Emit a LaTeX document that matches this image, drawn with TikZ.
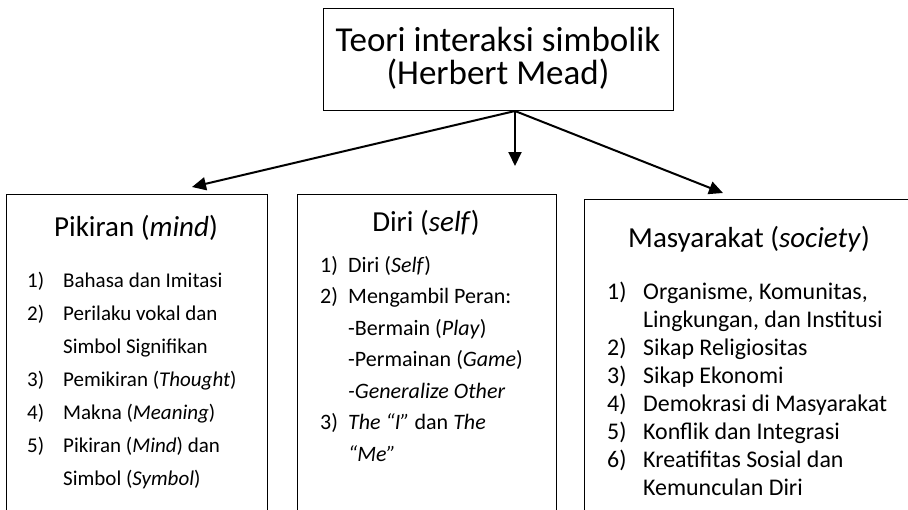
\documentclass[tikz,border=0pt]{standalone}
\usepackage{fontspec}
\setmainfont{Carlito}
\usetikzlibrary{arrows.meta}
\begin{document}
\begin{tikzpicture}[x=1pt,y=-1pt,
  panel/.style={draw, line width=1.2pt, inner sep=0pt, anchor=north west},
  link/.style={line width=2pt, -{Triangle[length=14pt,width=13pt]}},
  titletext/.style={anchor=base, inner sep=0pt, font=\fontsize{35}{40}\selectfont},
  headtext/.style={anchor=base, inner sep=0pt, font=\fontsize{29}{34}\selectfont},
  ltext/.style={anchor=base west, inner sep=0pt, font=\fontsize{21}{25}\selectfont},
  ctext/.style={anchor=base west, inner sep=0pt, font=\fontsize{22}{26}\selectfont},
  rtext/.style={anchor=base west, inner sep=0pt, font=\fontsize{23.9}{28}\selectfont}]
\useasboundingbox (0,0) rectangle (908,509);
\clip (0,0) rectangle (908,509);

% root box
\node[panel, minimum width=350pt, minimum height=102pt] (root) at (323,8) {};
\node[titletext] (t1) at (498,51) {Teori interaksi simbolik};
\node[titletext] (t2) at (498,84) {(Herbert Mead)};

% the three panels, open at the bottom edge
\node[panel, minimum width=261pt, minimum height=340pt] (mindbox) at (6,194) {};
\node[panel, minimum width=259pt, minimum height=340pt] (selfbox) at (297,194) {};
\node[panel, minimum width=340pt, minimum height=340pt] (socbox) at (584,199) {};

% connectors
\coordinate (src) at (515,111);
\coordinate (tipL) at (192,187);
\coordinate (tipC) at (515,166);
\coordinate (tipR) at (723,193);
\draw[link] (src) -- (tipL);
\draw[link] (src) -- (tipC);
\draw[link] (src) -- (tipR);

% Pikiran
\node[headtext] (hm) at (136,236) {Pikiran (\textit{mind})};
\node[ltext] (mn1) at (27,287) {1)};
\node[ltext] (mt1) at (63,287) {Bahasa dan Imitasi};
\node[ltext] (mn2) at (27,320) {2)};
\node[ltext] (mt2) at (63,320) {Perilaku vokal dan};
\node[ltext] (mt2b) at (63,353) {Simbol Signifikan};
\node[ltext] (mn3) at (27,386) {3)};
\node[ltext] (mt3) at (63,386) {Pemikiran (\textit{Thought})};
\node[ltext] (mn4) at (27,419) {4)};
\node[ltext] (mt4) at (63,419) {Makna (\textit{Meaning})};
\node[ltext] (mn5) at (27,452) {5)};
\node[ltext] (mt5) at (63,452) {Pikiran (\textit{Mind}) dan};
\node[ltext] (mt5b) at (63,485) {Simbol (\textit{Symbol})};

% Diri
\node[headtext] (hs) at (426,231) {Diri (\textit{self})};
\node[ctext] (sn1) at (320,272) {1)};
\node[ctext] (st1) at (348,272) {Diri (\textit{Self})};
\node[ctext] (sn2) at (320,303.5) {2)};
\node[ctext] (st2) at (348,303.5) {Mengambil Peran:};
\node[ctext] (st2b) at (348,335) {-Bermain (\textit{Play})};
\node[ctext] (st2c) at (348,366.5) {-Permainan (\textit{Game})};
\node[ctext] (st2d) at (348,398) {\textit{-Generalize Other}};
\node[ctext] (sn3) at (320,429.5) {3)};
\node[ctext] (st3) at (348,429.5) {\textit{The “I”} dan \textit{The}};
\node[ctext] (st3b) at (348,461) {\textit{“Me”}};

% Masyarakat
\node[headtext] (hc) at (749,247) {Masyarakat (\textit{society})};
\node[rtext] (cn1) at (607,299) {1)};
\node[rtext] (ct1) at (643,299) {Organisme, Komunitas,};
\node[rtext] (ct1b) at (643,327) {Lingkungan, dan Institusi};
\node[rtext] (cn2) at (607,355) {2)};
\node[rtext] (ct2) at (643,355) {Sikap Religiositas};
\node[rtext] (cn3) at (607,383) {3)};
\node[rtext] (ct3) at (643,383) {Sikap Ekonomi};
\node[rtext] (cn4) at (607,411) {4)};
\node[rtext] (ct4) at (643,411) {Demokrasi di Masyarakat};
\node[rtext] (cn5) at (607,439) {5)};
\node[rtext] (ct5) at (643,439) {Konflik dan Integrasi};
\node[rtext] (cn6) at (607,467) {6)};
\node[rtext] (ct6) at (643,467) {Kreatifitas Sosial dan};
\node[rtext] (ct6b) at (643,495) {Kemunculan Diri};
\end{tikzpicture}
\end{document}
